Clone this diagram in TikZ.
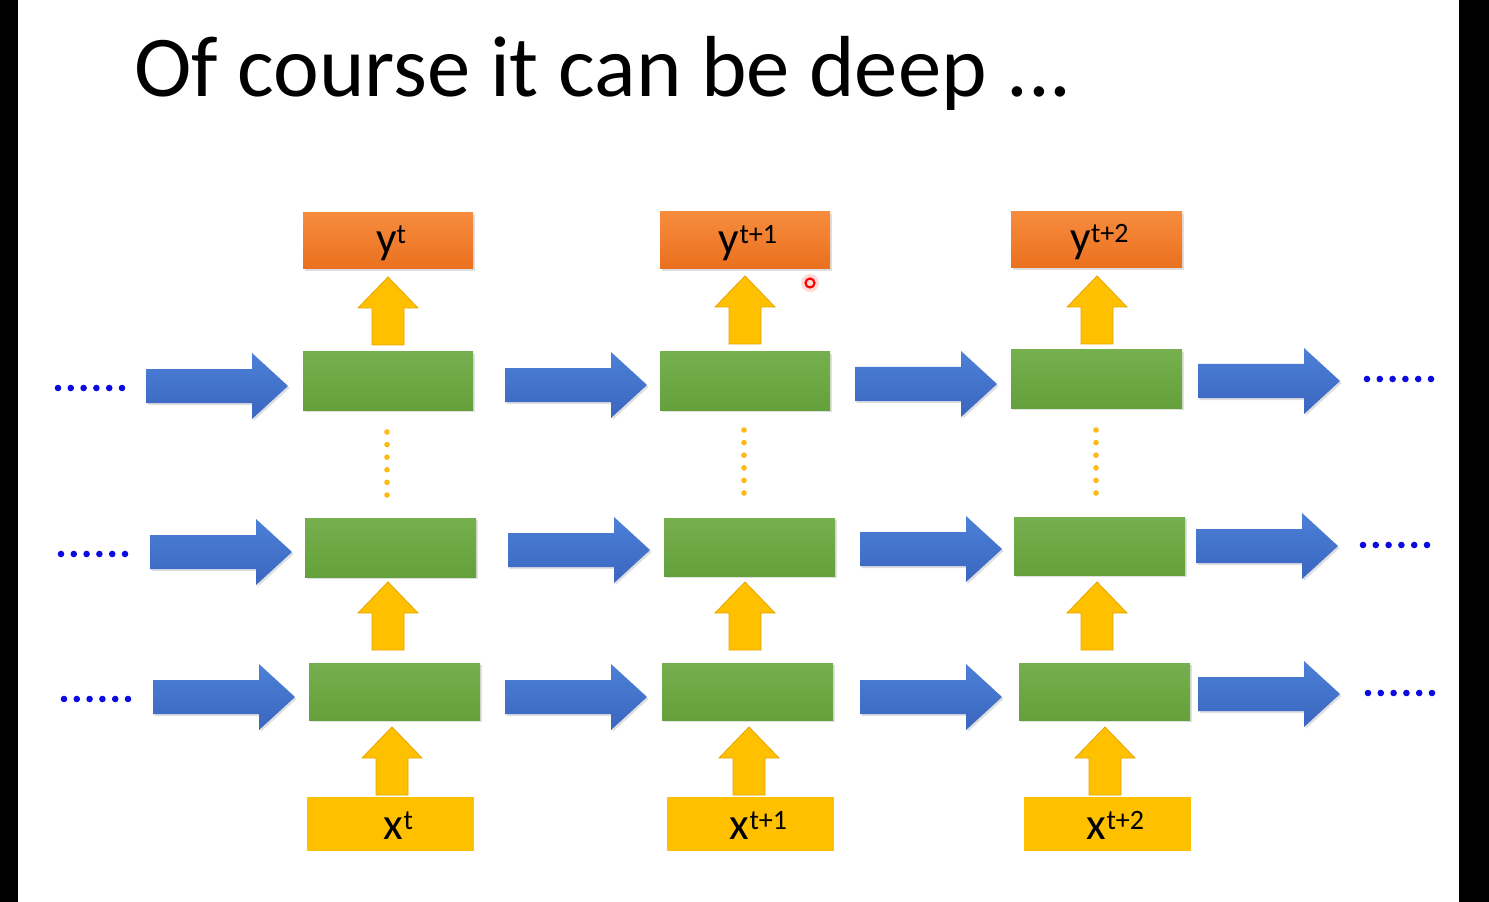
\documentclass[tikz,border=0pt]{standalone}
\usepackage{fontspec}
\setmainfont{Carlito}
\usetikzlibrary{shadows}
\definecolor{orngT}{RGB}{247,140,62}
\definecolor{orngB}{RGB}{234,112,30}
\definecolor{grnT}{RGB}{118,176,78}
\definecolor{grnB}{RGB}{100,160,60}
\definecolor{yel}{RGB}{255,192,0}
\definecolor{yelD}{RGB}{230,165,0}
\definecolor{bluT}{RGB}{76,128,214}
\definecolor{bluB}{RGB}{58,102,192}
\definecolor{dotblue}{RGB}{10,10,225}
\definecolor{dotorng}{RGB}{255,185,20}
\tikzset{
  boxshadow/.style={drop shadow={shadow xshift=1.2pt,shadow yshift=-1.5pt,opacity=0.25}},
  ybox/.style={top color=orngT,bottom color=orngB,boxshadow,inner sep=0pt,font=\fontsize{34}{36}\selectfont,text height=26pt,text depth=7pt},
  gbox/.style={top color=grnT,bottom color=grnB,boxshadow,inner sep=0pt},
  xbox/.style={fill=yel,inner sep=0pt,font=\fontsize{34}{36}\selectfont,text height=27pt,text depth=4.5pt},
  uparrow/.style={fill=yel,draw=yelD,line width=0.6pt},
  rarrow/.style={top color=bluT,bottom color=bluB,boxshadow},
}
\newcommand\bxnode[7]{\node[#1,minimum width={(#5-#3)*0.75pt},minimum height={(#6-#4)*0.75pt}] (#2) at ({(#3+#5)/2},{(#4+#6)/2}) {#7};}
\newcommand\uparr[2]{\path[uparrow] (#1,#2) -- ({#1+30},{#2+31}) -- ({#1+16},{#2+31}) -- ({#1+16},{#2+68}) -- ({#1-16},{#2+68}) -- ({#1-16},{#2+31}) -- ({#1-30},{#2+31}) -- cycle;}
\newcommand\rarr[2]{\path[rarrow] (#1,{#2-17}) -- ({#1+106},{#2-17}) -- ({#1+106},{#2-33}) -- ({#1+142},#2) -- ({#1+106},{#2+33}) -- ({#1+106},{#2+17}) -- (#1,{#2+17}) -- cycle;}
\newcommand\dotrowh[2]{\foreach \k in {0,...,5} {\fill[dotblue] ({#1+\k*12.8},#2) circle (3.3);}}
\newcommand\dotcolv[2]{\foreach \k in {0,...,5} {\fill[dotorng] (#1,{#2+\k*12.6}) circle (2.8);}}
\newcommand\sps[1]{\raisebox{7.5pt}{\fontsize{21}{22}\selectfont #1}}
\begin{document}
\begin{tikzpicture}[x=0.75pt,y=-0.75pt]
\useasboundingbox (0,0) rectangle (1489,902);
\fill[white] (0,0) rectangle (1489,902);
\fill[black] (0,0) rectangle (18,902);
\fill[black] (1459,0) rectangle (1489,902);
% title
\node[anchor=base west,inner sep=0pt,font=\fontsize{65}{72}\selectfont] (title) at (134,97) {Of course it can be deep ...};
% output boxes
\bxnode{ybox}{y1}{303}{213}{473}{269}{\hspace*{4.5pt}y\sps{t}}
\bxnode{ybox}{y2}{660}{212}{830}{269}{\hspace*{4.5pt}y\sps{t+1}}
\bxnode{ybox}{y3}{1011}{212}{1182}{268}{\hspace*{4.5pt}y\sps{t+2}}
% green boxes
\bxnode{gbox}{h11}{303}{352}{473}{410}{}
\bxnode{gbox}{h12}{660}{352}{830}{410}{}
\bxnode{gbox}{h13}{1011}{350}{1182}{408}{}
\bxnode{gbox}{h21}{305}{518}{476}{577}{}
\bxnode{gbox}{h22}{664}{518}{835}{576}{}
\bxnode{gbox}{h23}{1014}{517}{1185}{575}{}
\bxnode{gbox}{h31}{309}{663}{480}{720}{}
\bxnode{gbox}{h32}{662}{663}{833}{720}{}
\bxnode{gbox}{h33}{1019}{663}{1190}{720}{}
% input boxes
\bxnode{xbox}{x1}{307}{797}{474}{851}{\hspace*{12pt}x\sps{t}}
\bxnode{xbox}{x2}{667}{797}{834}{851}{\hspace*{12pt}x\sps{t+1}}
\bxnode{xbox}{x3}{1024}{797}{1191}{851}{\hspace*{12pt}x\sps{t+2}}
% yellow up arrows
\uparr{388}{277}\uparr{745}{276}\uparr{1097}{276}
\uparr{388}{582}\uparr{745}{582}\uparr{1097}{582}
\uparr{392}{727}\uparr{749}{727}\uparr{1105}{727}
% blue right arrows
\rarr{146}{386}\rarr{505}{385}\rarr{855}{384}\rarr{1198}{381}
\rarr{150}{552}\rarr{508}{550}\rarr{860}{549}\rarr{1196}{546}
\rarr{153}{697}\rarr{505}{697}\rarr{860}{697}\rarr{1198}{694}
% blue dots
\dotrowh{58}{388}\dotrowh{1367}{379}
\dotrowh{61}{554}\dotrowh{1363}{545}
\dotrowh{64}{699}\dotrowh{1368}{693}
% orange dots
\dotcolv{387}{432}\dotcolv{744}{430}\dotcolv{1096}{430}
% cursor
\fill[red!25,opacity=0.6] (810,283) circle (9);
\draw[red,line width=1.6pt] (810,283) circle (4.5);
\end{tikzpicture}
\end{document}
